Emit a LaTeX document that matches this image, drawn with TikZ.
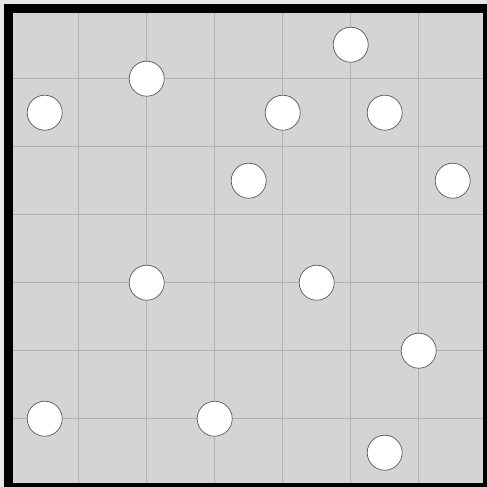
\documentclass[tikz,border=0pt]{standalone}
\begin{document}
\begin{tikzpicture}[x=1pt,y=-1pt,
  dot/.style={circle,draw=black!65,line width=0.7pt,fill=white,minimum size=35pt,inner sep=0pt},
  gridline/.style={draw=black!30,line width=0.9pt},
  frame/.style={draw=black,line width=9pt}]
\useasboundingbox (0,0) rectangle (487,487);
\fill[black!9] (0,0) rectangle (487,487);
\fill[black!17] (8.8,8.8) rectangle (487.8,487.8);
\foreach \i in {1,...,6}{
  \draw[gridline] ({10.7+68*\i},8.8) -- ({10.7+68*\i},487.8);
  \draw[gridline] (8.8,{10.7+68*\i}) -- (487.8,{10.7+68*\i});
}
\draw[frame] (8.8,8.8) rectangle (487.8,487.8);
\foreach \n/\gx/\gy in {c1/0.5/1.5, c2/2/1, c3/5/0.5, c4/4/1.5, c5/5.5/1.5, c6/3.5/2.5, c7/6.5/2.5, c8/2/4, c9/4.5/4, c10/6/5, c11/0.5/6, c12/3/6, c13/5.5/6.5}{
  \node[dot] (\n) at ({10.7+68*\gx},{10.7+68*\gy}) {};
}
\end{tikzpicture}
\end{document}
